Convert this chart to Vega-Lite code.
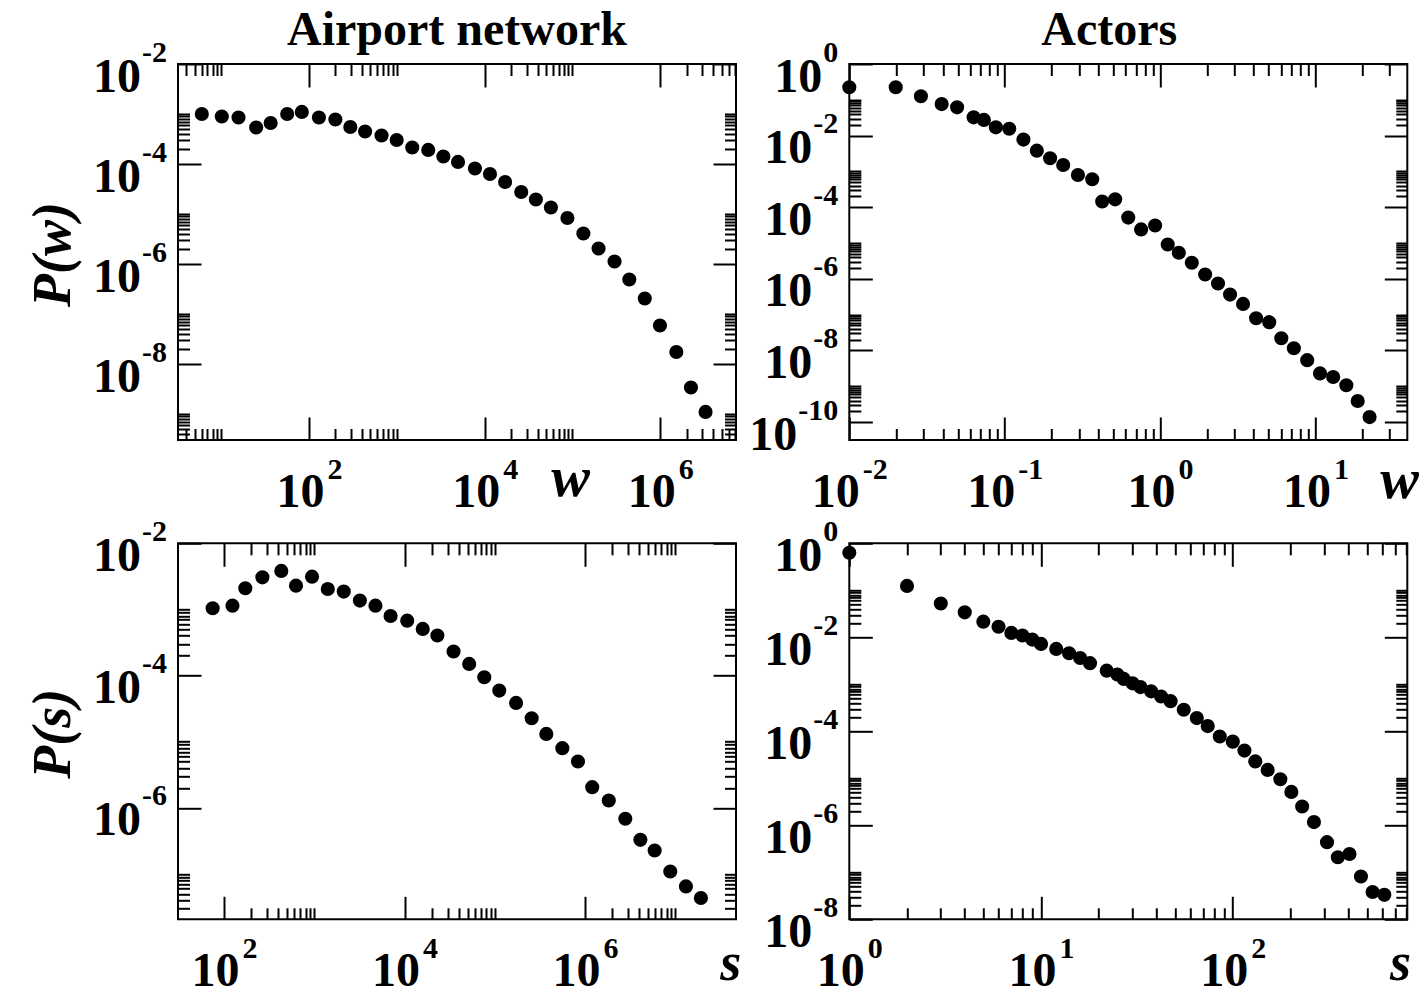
{
  "$schema": "https://vega.github.io/schema/vega-lite/v6.json",
  "background": "white",
  "padding": {"left": 25, "top": 6, "right": 5, "bottom": 5},
  "columns": 2,
  "bounds": "flush",
  "spacing": {"row": 103.3, "column": 113.3},
  "datasets": {
    "tl": [{"x":6.04,"y":0.001},{"x":10.2,"y":0.000891},{"x":15.8,"y":0.000851},{"x":25.1,"y":0.000537},{"x":36.7,"y":0.000661},{"x":56.6,"y":0.001},{"x":83,"y":0.0011},{"x":130,"y":0.000851},{"x":200,"y":0.000776},{"x":296,"y":0.00055},{"x":436,"y":0.000447},{"x":671,"y":0.000372},{"x":998,"y":0.000302},{"x":1500,"y":0.000214},{"x":2280,"y":0.000191},{"x":3390,"y":0.000141},{"x":4980,"y":0.00011},{"x":7760,"y":8.13e-5},{"x":11500,"y":6.31e-5},{"x":17100,"y":4.37e-5},{"x":26100,"y":2.75e-5},{"x":38300,"y":1.95e-5},{"x":56800,"y":1.35e-5},{"x":87500,"y":8.32e-6},{"x":133000,"y":4.07e-6},{"x":198000,"y":2.04e-6},{"x":301000,"y":1.12e-6},{"x":443000,"y":4.9e-7},{"x":665000,"y":2.04e-7},{"x":989000,"y":5.89e-8},{"x":1520000,"y":1.74e-8},{"x":2230000,"y":3.39e-9},{"x":3270000,"y":1.1e-9}],
    "tr": [{"x":0.01,"y":0.224},{"x":0.0199,"y":0.224},{"x":0.0289,"y":0.126},{"x":0.0393,"y":0.0759},{"x":0.0494,"y":0.0617},{"x":0.0631,"y":0.0324},{"x":0.0735,"y":0.0275},{"x":0.0877,"y":0.017},{"x":0.107,"y":0.0155},{"x":0.132,"y":0.00776},{"x":0.161,"y":0.0038},{"x":0.196,"y":0.00234},{"x":0.238,"y":0.00151},{"x":0.296,"y":0.000794},{"x":0.366,"y":0.000603},{"x":0.424,"y":0.000145},{"x":0.514,"y":0.000166},{"x":0.624,"y":5.13e-5},{"x":0.755,"y":2.4e-5},{"x":0.929,"y":3.09e-5},{"x":1.12,"y":9.12e-6},{"x":1.32,"y":5.37e-6},{"x":1.6,"y":2.82e-6},{"x":1.95,"y":1.32e-6},{"x":2.36,"y":7.41e-7},{"x":2.82,"y":3.63e-7},{"x":3.42,"y":2e-7},{"x":4.15,"y":7.94e-8},{"x":5.04,"y":6.17e-8},{"x":6.03,"y":2.19e-8},{"x":7.26,"y":1.15e-8},{"x":8.85,"y":5.37e-9},{"x":10.7,"y":2.29e-9},{"x":13,"y":1.82e-9},{"x":15.8,"y":1.07e-9},{"x":18.7,"y":3.89e-10},{"x":22.3,"y":1.38e-10}],
    "bl": [{"x":74.8,"y":0.00104},{"x":124,"y":0.00114},{"x":172,"y":0.00209},{"x":266,"y":0.00306},{"x":431,"y":0.00382},{"x":627,"y":0.00229},{"x":944,"y":0.00313},{"x":1410,"y":0.00204},{"x":2120,"y":0.00186},{"x":3200,"y":0.00136},{"x":4760,"y":0.00114},{"x":7000,"y":0.000794},{"x":10700,"y":0.000676},{"x":15900,"y":0.000507},{"x":23100,"y":0.000403},{"x":34900,"y":0.000231},{"x":52000,"y":0.00015},{"x":76400,"y":9.44e-5},{"x":112000,"y":5.93e-5},{"x":172000,"y":3.86e-5},{"x":256000,"y":2.26e-5},{"x":372000,"y":1.31e-5},{"x":560000,"y":7.98e-6},{"x":834000,"y":5.01e-6},{"x":1200000,"y":2.05e-6},{"x":1830000,"y":1.29e-6},{"x":2790000,"y":6.82e-7},{"x":4100000,"y":3.28e-7},{"x":5900000,"y":2.26e-7},{"x":8790000,"y":1.09e-7},{"x":13100000,"y":6.47e-8},{"x":19200000,"y":4.32e-8}],
    "br": [{"x":1,"y":0.63},{"x":2,"y":0.124},{"x":3,"y":0.0525},{"x":4,"y":0.034},{"x":5,"y":0.0215},{"x":6,"y":0.0168},{"x":7,"y":0.0124},{"x":8,"y":0.0109},{"x":9,"y":0.00895},{"x":10,"y":0.00724},{"x":12,"y":0.00566},{"x":14,"y":0.00457},{"x":16,"y":0.00363},{"x":18,"y":0.00282},{"x":22,"y":0.00195},{"x":25,"y":0.00162},{"x":27,"y":0.0013},{"x":30,"y":0.00105},{"x":33,"y":0.000871},{"x":37.5,"y":0.000708},{"x":42.3,"y":0.00055},{"x":47.4,"y":0.000437},{"x":55.5,"y":0.000288},{"x":64.9,"y":0.000191},{"x":74,"y":0.000129},{"x":85.5,"y":7.76e-5},{"x":100,"y":6.03e-5},{"x":115,"y":3.89e-5},{"x":131,"y":2.29e-5},{"x":152,"y":1.51e-5},{"x":177,"y":9.55e-6},{"x":202,"y":5.13e-6},{"x":230,"y":2.51e-6},{"x":265,"y":1.17e-6},{"x":310,"y":4.37e-7},{"x":353,"y":2.09e-7},{"x":406,"y":2.45e-7},{"x":466,"y":8.13e-8},{"x":536,"y":3.8e-8},{"x":617,"y":3.31e-8}]
  },
  "concat": [
    {
      "title": {"text": "Airport network", "font": "Liberation Serif", "fontSize": 48, "fontWeight": "bold", "color": "black", "anchor": "middle", "baseline": "alphabetic", "offset": 21, "dy": 77},
      "width": 558, "height": 376,
      "data": {"name": "tl"},
      "layer": [
        {"mark": {"type": "point", "shape": "circle", "filled": true, "size": 200, "color": "black", "opacity": 1, "strokeWidth": 0},
         "encoding": {
           "x": {"field": "x", "type": "quantitative", "scale": {"type": "log", "domain": [3.236, 7260000], "nice": false},
                 "axis": {"orient": "bottom", "ticks": false, "tickSize": 0, "values": [100, 10000, 1000000], "labelExpr": "'10'",
                          "labelAlign": "right", "labelBaseline": "alphabetic", "labelOffset": 15, "labelPadding": 66, "labelFlush": false, "labelOverlap": false, "labelBound": false,
                          "title": "w", "titleFontSize": 58, "titleX": 392, "titleY": 55, "titleAlign": "center", "titleBaseline": "alphabetic", "titleAngle": 0}},
           "y": {"field": "y", "type": "quantitative", "scale": {"type": "log", "domain": [3.02e-10, 0.01], "nice": false},
                 "axis": {"orient": "left", "ticks": false, "tickSize": 0, "values": [0.01, 0.0001, 1e-6, 1e-8], "labelExpr": "'10'",
                          "labelAlign": "right", "labelBaseline": "alphabetic", "labelOffset": 27, "labelPadding": 37.5, "labelFlush": false, "labelOverlap": false, "labelBound": false,
                          "title": "P(w)", "titleFontSize": 54, "titleX": -124.7, "titleY": 190, "titleAngle": 270, "titleAlign": "center", "titleBaseline": "middle"}}
         }},
        {"mark": {"type": "point", "opacity": 0},
         "encoding": {
           "x": {"field": "x", "type": "quantitative", "scale": {"type": "log", "domain": [3.236, 7260000], "nice": false},
                 "axis": {"orient": "bottom", "ticks": false, "tickSize": 0, "values": [100, 10000, 1000000], "labelExpr": "'' + round(log(datum.value)/LN10)", "labelFontSize": 30,
                          "labelAlign": "left", "labelBaseline": "alphabetic", "labelOffset": 18, "labelPadding": 38, "labelFlush": false, "labelOverlap": false, "labelBound": false, "title": null}},
           "y": {"field": "y", "type": "quantitative", "scale": {"type": "log", "domain": [3.02e-10, 0.01], "nice": false},
                 "axis": {"orient": "left", "ticks": false, "tickSize": 0, "values": [0.01, 0.0001, 1e-6, 1e-8], "labelExpr": "'' + round(log(datum.value)/LN10)", "labelFontSize": 30,
                          "labelAlign": "right", "labelBaseline": "alphabetic", "labelOffset": -3, "labelPadding": 11.5, "labelFlush": false, "labelOverlap": false, "labelBound": false, "title": null}}
         }},
        {"mark": {"type": "point", "opacity": 0},
         "encoding": {
           "x": {"field": "x", "type": "quantitative", "scale": {"type": "log", "domain": [3.236, 7260000], "nice": false},
                 "axis": {"orient": "bottom", "offset": -23, "tickSize": 23, "labels": false, "title": null, "values": [100, 10000, 1000000]}},
           "y": {"field": "y", "type": "quantitative", "scale": {"type": "log", "domain": [3.02e-10, 0.01], "nice": false},
                 "axis": {"orient": "left", "offset": -23, "tickSize": 23, "labels": false, "title": null, "values": [0.01, 0.0001, 1e-6, 1e-8]}}
         }},
        {"mark": {"type": "point", "opacity": 0},
         "encoding": {
           "x": {"field": "x", "type": "quantitative", "scale": {"type": "log", "domain": [3.236, 7260000], "nice": false},
                 "axis": {"orient": "bottom", "offset": -11.5, "tickSize": 11.5, "labels": false, "title": null,
                          "values": [4,5,6,7,8,9,10,200,300,400,500,600,700,800,900,1000,20000,30000,40000,50000,60000,70000,80000,90000,100000,2000000,3000000,4000000,5000000,6000000,7000000]}},
           "y": {"field": "y", "type": "quantitative", "scale": {"type": "log", "domain": [3.02e-10, 0.01], "nice": false},
                 "axis": {"orient": "left", "offset": -11.5, "tickSize": 11.5, "labels": false, "title": null,
                          "values": [0.0002,0.0003,0.0004,0.0005,0.0006,0.0007,0.0008,0.0009,0.001,2e-6,3e-6,4e-6,5e-6,6e-6,7e-6,8e-6,9e-6,1e-5,2e-8,3e-8,4e-8,5e-8,6e-8,7e-8,8e-8,9e-8,1e-7,4e-10,5e-10,6e-10,7e-10,8e-10,9e-10,1e-9]}}
         }},
        {"mark": {"type": "point", "opacity": 0},
         "encoding": {
           "x": {"field": "x", "type": "quantitative", "scale": {"type": "log", "domain": [3.236, 7260000], "nice": false},
                 "axis": {"orient": "top", "offset": -23, "tickSize": 23, "labels": false, "title": null, "values": [100, 10000, 1000000]}},
           "y": {"field": "y", "type": "quantitative", "scale": {"type": "log", "domain": [3.02e-10, 0.01], "nice": false},
                 "axis": {"orient": "right", "offset": -23, "tickSize": 23, "labels": false, "title": null, "values": [0.01, 0.0001, 1e-6, 1e-8]}}
         }},
        {"mark": {"type": "point", "opacity": 0},
         "encoding": {
           "x": {"field": "x", "type": "quantitative", "scale": {"type": "log", "domain": [3.236, 7260000], "nice": false},
                 "axis": {"orient": "top", "offset": -11.5, "tickSize": 11.5, "labels": false, "title": null,
                          "values": [4,5,6,7,8,9,10,200,300,400,500,600,700,800,900,1000,20000,30000,40000,50000,60000,70000,80000,90000,100000,2000000,3000000,4000000,5000000,6000000,7000000]}},
           "y": {"field": "y", "type": "quantitative", "scale": {"type": "log", "domain": [3.02e-10, 0.01], "nice": false},
                 "axis": {"orient": "right", "offset": -11.5, "tickSize": 11.5, "labels": false, "title": null,
                          "values": [0.0002,0.0003,0.0004,0.0005,0.0006,0.0007,0.0008,0.0009,0.001,2e-6,3e-6,4e-6,5e-6,6e-6,7e-6,8e-6,9e-6,1e-5,2e-8,3e-8,4e-8,5e-8,6e-8,7e-8,8e-8,9e-8,1e-7,4e-10,5e-10,6e-10,7e-10,8e-10,9e-10,1e-9]}}
         }}
      ],
      "resolve": {"axis": {"x": "independent", "y": "independent"}}
    },
    {
      "title": {"text": "Actors", "font": "Liberation Serif", "fontSize": 48, "fontWeight": "bold", "color": "black", "anchor": "middle", "baseline": "alphabetic", "offset": 21, "dx": -19, "dy": 77},
      "width": 558, "height": 376,
      "data": {"name": "tr"},
      "layer": [
        {"mark": {"type": "point", "shape": "circle", "filled": true, "size": 200, "color": "black", "opacity": 1, "strokeWidth": 0},
         "encoding": {
           "x": {"field": "x", "type": "quantitative", "scale": {"type": "log", "domain": [0.01, 39], "nice": false},
                 "axis": {"orient": "bottom", "ticks": false, "tickSize": 0, "values": [0.01, 0.1], "labelExpr": "'10'",
                          "labelAlign": "right", "labelBaseline": "alphabetic", "labelOffset": 10, "labelPadding": 66, "labelFlush": false, "labelOverlap": false, "labelBound": false,
                          "title": "w", "titleFontSize": 58, "titleX": 549.7, "titleY": 57, "titleAlign": "center", "titleBaseline": "alphabetic", "titleAngle": 0}},
           "y": {"field": "y", "type": "quantitative", "scale": {"type": "log", "domain": [3.16e-11, 1], "nice": false},
                 "axis": {"orient": "left", "ticks": false, "tickSize": 0, "values": [0.01, 0.0001, 1e-6, 1e-8], "labelExpr": "'10'",
                          "labelAlign": "right", "labelBaseline": "alphabetic", "labelOffset": 27, "labelPadding": 37.5, "labelFlush": false, "labelOverlap": false, "labelBound": false, "title": null}}
         }},
        {"mark": {"type": "point", "opacity": 0},
         "encoding": {
           "x": {"field": "x", "type": "quantitative", "scale": {"type": "log", "domain": [0.01, 39], "nice": false},
                 "axis": {"orient": "bottom", "ticks": false, "tickSize": 0, "values": [0.01, 0.1], "labelExpr": "'' + round(log(datum.value)/LN10)", "labelFontSize": 30,
                          "labelAlign": "left", "labelBaseline": "alphabetic", "labelOffset": 13, "labelPadding": 38, "labelFlush": false, "labelOverlap": false, "labelBound": false, "title": null}},
           "y": {"field": "y", "type": "quantitative", "scale": {"type": "log", "domain": [3.16e-11, 1], "nice": false},
                 "axis": {"orient": "left", "ticks": false, "tickSize": 0, "values": [1, 0.01, 0.0001, 1e-6, 1e-8, 1e-10], "labelExpr": "'' + round(log(datum.value)/LN10)", "labelFontSize": 30,
                          "labelAlign": "right", "labelBaseline": "alphabetic", "labelOffset": -3, "labelPadding": 11.5, "labelFlush": false, "labelOverlap": false, "labelBound": false, "title": null}}
         }},
        {"mark": {"type": "point", "opacity": 0},
         "encoding": {
           "x": {"field": "x", "type": "quantitative", "scale": {"type": "log", "domain": [0.01, 39], "nice": false},
                 "axis": {"orient": "bottom", "ticks": false, "tickSize": 0, "values": [1, 10], "labelExpr": "'10'",
                          "labelAlign": "right", "labelBaseline": "alphabetic", "labelOffset": 15, "labelPadding": 66, "labelFlush": false, "labelOverlap": false, "labelBound": false, "title": null}},
           "y": {"field": "y", "type": "quantitative", "scale": {"type": "log", "domain": [3.16e-11, 1], "nice": false},
                 "axis": {"orient": "left", "ticks": false, "tickSize": 0, "values": [1], "labelExpr": "'10'",
                          "labelAlign": "right", "labelBaseline": "alphabetic", "labelOffset": 27, "labelPadding": 27.5, "labelFlush": false, "labelOverlap": false, "labelBound": false, "title": null}}
         }},
        {"mark": {"type": "point", "opacity": 0},
         "encoding": {
           "x": {"field": "x", "type": "quantitative", "scale": {"type": "log", "domain": [0.01, 39], "nice": false},
                 "axis": {"orient": "bottom", "ticks": false, "tickSize": 0, "values": [1, 10], "labelExpr": "'' + round(log(datum.value)/LN10)", "labelFontSize": 30,
                          "labelAlign": "left", "labelBaseline": "alphabetic", "labelOffset": 18, "labelPadding": 38, "labelFlush": false, "labelOverlap": false, "labelBound": false, "title": null}},
           "y": {"field": "y", "type": "quantitative", "scale": {"type": "log", "domain": [3.16e-11, 1], "nice": false},
                 "axis": {"orient": "left", "ticks": false, "tickSize": 0, "values": [1e-10], "labelExpr": "'10'",
                          "labelAlign": "right", "labelBaseline": "alphabetic", "labelOffset": 27, "labelPadding": 52.5, "labelFlush": false, "labelOverlap": false, "labelBound": false, "title": null}}
         }},
        {"mark": {"type": "point", "opacity": 0},
         "encoding": {
           "x": {"field": "x", "type": "quantitative", "scale": {"type": "log", "domain": [0.01, 39], "nice": false},
                 "axis": {"orient": "bottom", "offset": -23, "tickSize": 23, "labels": false, "title": null, "values": [0.01, 0.1, 1, 10]}},
           "y": {"field": "y", "type": "quantitative", "scale": {"type": "log", "domain": [3.16e-11, 1], "nice": false},
                 "axis": {"orient": "left", "offset": -23, "tickSize": 23, "labels": false, "title": null, "values": [1, 0.01, 0.0001, 1e-6, 1e-8, 1e-10]}}
         }},
        {"mark": {"type": "point", "opacity": 0},
         "encoding": {
           "x": {"field": "x", "type": "quantitative", "scale": {"type": "log", "domain": [0.01, 39], "nice": false},
                 "axis": {"orient": "bottom", "offset": -11.5, "tickSize": 11.5, "labels": false, "title": null,
                          "values": [0.02,0.03,0.04,0.05,0.06,0.07,0.08,0.09,0.2,0.3,0.4,0.5,0.6,0.7,0.8,0.9,2,3,4,5,6,7,8,9,20,30]}},
           "y": {"field": "y", "type": "quantitative", "scale": {"type": "log", "domain": [3.16e-11, 1], "nice": false},
                 "axis": {"orient": "left", "offset": -11.5, "tickSize": 11.5, "labels": false, "title": null,
                          "values": [0.02,0.03,0.04,0.05,0.06,0.07,0.08,0.09,0.1,0.0002,0.0003,0.0004,0.0005,0.0006,0.0007,0.0008,0.0009,0.001,2e-6,3e-6,4e-6,5e-6,6e-6,7e-6,8e-6,9e-6,1e-5,2e-8,3e-8,4e-8,5e-8,6e-8,7e-8,8e-8,9e-8,1e-7,2e-10,3e-10,4e-10,5e-10,6e-10,7e-10,8e-10,9e-10,1e-9]}}
         }},
        {"mark": {"type": "point", "opacity": 0},
         "encoding": {
           "x": {"field": "x", "type": "quantitative", "scale": {"type": "log", "domain": [0.01, 39], "nice": false},
                 "axis": {"orient": "top", "offset": -23, "tickSize": 23, "labels": false, "title": null, "values": [0.01, 0.1, 1, 10]}},
           "y": {"field": "y", "type": "quantitative", "scale": {"type": "log", "domain": [3.16e-11, 1], "nice": false},
                 "axis": {"orient": "right", "offset": -23, "tickSize": 23, "labels": false, "title": null, "values": [1, 0.01, 0.0001, 1e-6, 1e-8, 1e-10]}}
         }},
        {"mark": {"type": "point", "opacity": 0},
         "encoding": {
           "x": {"field": "x", "type": "quantitative", "scale": {"type": "log", "domain": [0.01, 39], "nice": false},
                 "axis": {"orient": "top", "offset": -11.5, "tickSize": 11.5, "labels": false, "title": null,
                          "values": [0.02,0.03,0.04,0.05,0.06,0.07,0.08,0.09,0.2,0.3,0.4,0.5,0.6,0.7,0.8,0.9,2,3,4,5,6,7,8,9,20,30]}},
           "y": {"field": "y", "type": "quantitative", "scale": {"type": "log", "domain": [3.16e-11, 1], "nice": false},
                 "axis": {"orient": "right", "offset": -11.5, "tickSize": 11.5, "labels": false, "title": null,
                          "values": [0.02,0.03,0.04,0.05,0.06,0.07,0.08,0.09,0.1,0.0002,0.0003,0.0004,0.0005,0.0006,0.0007,0.0008,0.0009,0.001,2e-6,3e-6,4e-6,5e-6,6e-6,7e-6,8e-6,9e-6,1e-5,2e-8,3e-8,4e-8,5e-8,6e-8,7e-8,8e-8,9e-8,1e-7,2e-10,3e-10,4e-10,5e-10,6e-10,7e-10,8e-10,9e-10,1e-9]}}
         }}
      ],
      "resolve": {"axis": {"x": "independent", "y": "independent"}}
    },
    {
      "width": 558, "height": 376,
      "data": {"name": "bl"},
      "layer": [
        {"mark": {"type": "point", "shape": "circle", "filled": true, "size": 200, "color": "black", "opacity": 1, "strokeWidth": 0},
         "encoding": {
           "x": {"field": "x", "type": "quantitative", "scale": {"type": "log", "domain": [30.9, 47000000], "nice": false},
                 "axis": {"orient": "bottom", "ticks": false, "tickSize": 0, "values": [100, 10000, 1000000], "labelExpr": "'10'",
                          "labelAlign": "right", "labelBaseline": "alphabetic", "labelOffset": 15, "labelPadding": 66, "labelFlush": false, "labelOverlap": false, "labelBound": false,
                          "title": "s", "titleFontSize": 54, "titleX": 552.3, "titleY": 60, "titleAlign": "center", "titleBaseline": "alphabetic", "titleAngle": 0}},
           "y": {"field": "y", "type": "quantitative", "scale": {"type": "log", "domain": [2.06e-8, 0.01], "nice": false},
                 "axis": {"orient": "left", "ticks": false, "tickSize": 0, "values": [0.01, 0.0001, 1e-6], "labelExpr": "'10'",
                          "labelAlign": "right", "labelBaseline": "alphabetic", "labelOffset": 27, "labelPadding": 37.5, "labelFlush": false, "labelOverlap": false, "labelBound": false,
                          "title": "P(s)", "titleFontSize": 54, "titleX": -124.7, "titleY": 190, "titleAngle": 270, "titleAlign": "center", "titleBaseline": "middle"}}
         }},
        {"mark": {"type": "point", "opacity": 0},
         "encoding": {
           "x": {"field": "x", "type": "quantitative", "scale": {"type": "log", "domain": [30.9, 47000000], "nice": false},
                 "axis": {"orient": "bottom", "ticks": false, "tickSize": 0, "values": [100, 10000, 1000000], "labelExpr": "'' + round(log(datum.value)/LN10)", "labelFontSize": 30,
                          "labelAlign": "left", "labelBaseline": "alphabetic", "labelOffset": 18, "labelPadding": 38, "labelFlush": false, "labelOverlap": false, "labelBound": false, "title": null}},
           "y": {"field": "y", "type": "quantitative", "scale": {"type": "log", "domain": [2.06e-8, 0.01], "nice": false},
                 "axis": {"orient": "left", "ticks": false, "tickSize": 0, "values": [0.01, 0.0001, 1e-6], "labelExpr": "'' + round(log(datum.value)/LN10)", "labelFontSize": 30,
                          "labelAlign": "right", "labelBaseline": "alphabetic", "labelOffset": -3, "labelPadding": 11.5, "labelFlush": false, "labelOverlap": false, "labelBound": false, "title": null}}
         }},
        {"mark": {"type": "point", "opacity": 0},
         "encoding": {
           "x": {"field": "x", "type": "quantitative", "scale": {"type": "log", "domain": [30.9, 47000000], "nice": false},
                 "axis": {"orient": "bottom", "offset": -23, "tickSize": 23, "labels": false, "title": null, "values": [100, 10000, 1000000]}},
           "y": {"field": "y", "type": "quantitative", "scale": {"type": "log", "domain": [2.06e-8, 0.01], "nice": false},
                 "axis": {"orient": "left", "offset": -23, "tickSize": 23, "labels": false, "title": null, "values": [0.01, 0.0001, 1e-6]}}
         }},
        {"mark": {"type": "point", "opacity": 0},
         "encoding": {
           "x": {"field": "x", "type": "quantitative", "scale": {"type": "log", "domain": [30.9, 47000000], "nice": false},
                 "axis": {"orient": "bottom", "offset": -11.5, "tickSize": 11.5, "labels": false, "title": null,
                          "values": [200,300,400,500,600,700,800,900,1000,20000,30000,40000,50000,60000,70000,80000,90000,100000,2000000,3000000,4000000,5000000,6000000,7000000,8000000,9000000,10000000]}},
           "y": {"field": "y", "type": "quantitative", "scale": {"type": "log", "domain": [2.06e-8, 0.01], "nice": false},
                 "axis": {"orient": "left", "offset": -11.5, "tickSize": 11.5, "labels": false, "title": null,
                          "values": [0.0002,0.0003,0.0004,0.0005,0.0006,0.0007,0.0008,0.0009,0.001,2e-6,3e-6,4e-6,5e-6,6e-6,7e-6,8e-6,9e-6,1e-5,3e-8,4e-8,5e-8,6e-8,7e-8,8e-8,9e-8,1e-7]}}
         }},
        {"mark": {"type": "point", "opacity": 0},
         "encoding": {
           "x": {"field": "x", "type": "quantitative", "scale": {"type": "log", "domain": [30.9, 47000000], "nice": false},
                 "axis": {"orient": "top", "offset": -23, "tickSize": 23, "labels": false, "title": null, "values": [100, 10000, 1000000]}},
           "y": {"field": "y", "type": "quantitative", "scale": {"type": "log", "domain": [2.06e-8, 0.01], "nice": false},
                 "axis": {"orient": "right", "offset": -23, "tickSize": 23, "labels": false, "title": null, "values": [0.01, 0.0001, 1e-6]}}
         }},
        {"mark": {"type": "point", "opacity": 0},
         "encoding": {
           "x": {"field": "x", "type": "quantitative", "scale": {"type": "log", "domain": [30.9, 47000000], "nice": false},
                 "axis": {"orient": "top", "offset": -11.5, "tickSize": 11.5, "labels": false, "title": null,
                          "values": [200,300,400,500,600,700,800,900,1000,20000,30000,40000,50000,60000,70000,80000,90000,100000,2000000,3000000,4000000,5000000,6000000,7000000,8000000,9000000,10000000]}},
           "y": {"field": "y", "type": "quantitative", "scale": {"type": "log", "domain": [2.06e-8, 0.01], "nice": false},
                 "axis": {"orient": "right", "offset": -11.5, "tickSize": 11.5, "labels": false, "title": null,
                          "values": [0.0002,0.0003,0.0004,0.0005,0.0006,0.0007,0.0008,0.0009,0.001,2e-6,3e-6,4e-6,5e-6,6e-6,7e-6,8e-6,9e-6,1e-5,3e-8,4e-8,5e-8,6e-8,7e-8,8e-8,9e-8,1e-7]}}
         }}
      ],
      "resolve": {"axis": {"x": "independent", "y": "independent"}}
    },
    {
      "width": 558, "height": 376,
      "data": {"name": "br"},
      "layer": [
        {"mark": {"type": "point", "shape": "circle", "filled": true, "size": 200, "color": "black", "opacity": 1, "strokeWidth": 0},
         "encoding": {
           "x": {"field": "x", "type": "quantitative", "scale": {"type": "log", "domain": [1, 813], "nice": false},
                 "axis": {"orient": "bottom", "ticks": false, "tickSize": 0, "values": [1, 10, 100], "labelExpr": "'10'",
                          "labelAlign": "right", "labelBaseline": "alphabetic", "labelOffset": 15, "labelPadding": 66, "labelFlush": false, "labelOverlap": false, "labelBound": false,
                          "title": "s", "titleFontSize": 54, "titleX": 550.7, "titleY": 60, "titleAlign": "center", "titleBaseline": "alphabetic", "titleAngle": 0}},
           "y": {"field": "y", "type": "quantitative", "scale": {"type": "log", "domain": [1e-8, 1], "nice": false},
                 "axis": {"orient": "left", "ticks": false, "tickSize": 0, "values": [0.01, 0.0001, 1e-6, 1e-8], "labelExpr": "'10'",
                          "labelAlign": "right", "labelBaseline": "alphabetic", "labelOffset": 27, "labelPadding": 37.5, "labelFlush": false, "labelOverlap": false, "labelBound": false, "title": null}}
         }},
        {"mark": {"type": "point", "opacity": 0},
         "encoding": {
           "x": {"field": "x", "type": "quantitative", "scale": {"type": "log", "domain": [1, 813], "nice": false},
                 "axis": {"orient": "bottom", "ticks": false, "tickSize": 0, "values": [1, 10, 100], "labelExpr": "'' + round(log(datum.value)/LN10)", "labelFontSize": 30,
                          "labelAlign": "left", "labelBaseline": "alphabetic", "labelOffset": 18, "labelPadding": 38, "labelFlush": false, "labelOverlap": false, "labelBound": false, "title": null}},
           "y": {"field": "y", "type": "quantitative", "scale": {"type": "log", "domain": [1e-8, 1], "nice": false},
                 "axis": {"orient": "left", "ticks": false, "tickSize": 0, "values": [1, 0.01, 0.0001, 1e-6, 1e-8], "labelExpr": "'' + round(log(datum.value)/LN10)", "labelFontSize": 30,
                          "labelAlign": "right", "labelBaseline": "alphabetic", "labelOffset": -3, "labelPadding": 11.5, "labelFlush": false, "labelOverlap": false, "labelBound": false, "title": null}}
         }},
        {"mark": {"type": "point", "opacity": 0},
         "encoding": {
           "x": {"field": "x", "type": "quantitative", "scale": {"type": "log", "domain": [1, 813], "nice": false}, "axis": null},
           "y": {"field": "y", "type": "quantitative", "scale": {"type": "log", "domain": [1e-8, 1], "nice": false},
                 "axis": {"orient": "left", "ticks": false, "tickSize": 0, "values": [1], "labelExpr": "'10'",
                          "labelAlign": "right", "labelBaseline": "alphabetic", "labelOffset": 27, "labelPadding": 27.5, "labelFlush": false, "labelOverlap": false, "labelBound": false, "title": null}}
         }},
        {"mark": {"type": "point", "opacity": 0},
         "encoding": {
           "x": {"field": "x", "type": "quantitative", "scale": {"type": "log", "domain": [1, 813], "nice": false},
                 "axis": {"orient": "bottom", "offset": -23, "tickSize": 23, "labels": false, "title": null, "values": [1, 10, 100]}},
           "y": {"field": "y", "type": "quantitative", "scale": {"type": "log", "domain": [1e-8, 1], "nice": false},
                 "axis": {"orient": "left", "offset": -23, "tickSize": 23, "labels": false, "title": null, "values": [1, 0.01, 0.0001, 1e-6, 1e-8]}}
         }},
        {"mark": {"type": "point", "opacity": 0},
         "encoding": {
           "x": {"field": "x", "type": "quantitative", "scale": {"type": "log", "domain": [1, 813], "nice": false},
                 "axis": {"orient": "bottom", "offset": -11.5, "tickSize": 11.5, "labels": false, "title": null,
                          "values": [2,3,4,5,6,7,8,9,20,30,40,50,60,70,80,90,200,300,400,500,600,700,800]}},
           "y": {"field": "y", "type": "quantitative", "scale": {"type": "log", "domain": [1e-8, 1], "nice": false},
                 "axis": {"orient": "left", "offset": -11.5, "tickSize": 11.5, "labels": false, "title": null,
                          "values": [0.02,0.03,0.04,0.05,0.06,0.07,0.08,0.09,0.1,0.0002,0.0003,0.0004,0.0005,0.0006,0.0007,0.0008,0.0009,0.001,2e-6,3e-6,4e-6,5e-6,6e-6,7e-6,8e-6,9e-6,1e-5,2e-8,3e-8,4e-8,5e-8,6e-8,7e-8,8e-8,9e-8,1e-7]}}
         }},
        {"mark": {"type": "point", "opacity": 0},
         "encoding": {
           "x": {"field": "x", "type": "quantitative", "scale": {"type": "log", "domain": [1, 813], "nice": false},
                 "axis": {"orient": "top", "offset": -23, "tickSize": 23, "labels": false, "title": null, "values": [1, 10, 100]}},
           "y": {"field": "y", "type": "quantitative", "scale": {"type": "log", "domain": [1e-8, 1], "nice": false},
                 "axis": {"orient": "right", "offset": -23, "tickSize": 23, "labels": false, "title": null, "values": [1, 0.01, 0.0001, 1e-6, 1e-8]}}
         }},
        {"mark": {"type": "point", "opacity": 0},
         "encoding": {
           "x": {"field": "x", "type": "quantitative", "scale": {"type": "log", "domain": [1, 813], "nice": false},
                 "axis": {"orient": "top", "offset": -11.5, "tickSize": 11.5, "labels": false, "title": null,
                          "values": [2,3,4,5,6,7,8,9,20,30,40,50,60,70,80,90,200,300,400,500,600,700,800]}},
           "y": {"field": "y", "type": "quantitative", "scale": {"type": "log", "domain": [1e-8, 1], "nice": false},
                 "axis": {"orient": "right", "offset": -11.5, "tickSize": 11.5, "labels": false, "title": null,
                          "values": [0.02,0.03,0.04,0.05,0.06,0.07,0.08,0.09,0.1,0.0002,0.0003,0.0004,0.0005,0.0006,0.0007,0.0008,0.0009,0.001,2e-6,3e-6,4e-6,5e-6,6e-6,7e-6,8e-6,9e-6,1e-5,2e-8,3e-8,4e-8,5e-8,6e-8,7e-8,8e-8,9e-8,1e-7]}}
         }}
      ],
      "resolve": {"axis": {"x": "independent", "y": "independent"}}
    }
  ],
  "config": {
    "view": {"stroke": "black", "strokeWidth": 2},
    "axis": {
      "domain": false, "grid": false, "tickColor": "black", "tickWidth": 2,
      "labelFont": "Liberation Serif", "labelFontWeight": "bold", "labelFontSize": 48, "labelColor": "black",
      "titleFont": "Liberation Serif", "titleFontWeight": "bold", "titleFontStyle": "italic", "titleColor": "black"
    }
  }
}
